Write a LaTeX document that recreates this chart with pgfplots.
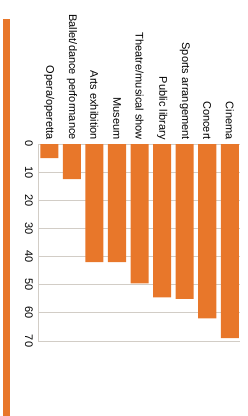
\documentclass[border=0pt]{standalone}
\usepackage{fontspec}
\setmainfont{Liberation Sans}
\usepackage{pgfplots}
\pgfplotsset{compat=1.18}
\definecolor{barorange}{HTML}{E8772A}
\definecolor{gridc}{HTML}{D2CDC6}
\begin{document}
\begin{tikzpicture}
\useasboundingbox (0,0) rectangle (247pt,416pt);
\fill[barorange] (3.3pt,0pt) rectangle (10pt,397pt);
\begin{axis}[
  at={(38pt,75pt)}, anchor=south west,
  scale only axis, width=202pt, height=197pt,
  ybar, bar width=0.8, 
  y dir=reverse,
  ymin=0, ymax=70,
  xmin=-0.5, xmax=8.45,
  xtick=data,
  xticklabels={Opera/operetta,Ballet/dance performance,Arts exhibition,Museum,Theatre/musical show,Public library,Sports arrangement,Concert,Cinema},
  axis x line*=top,
  x axis line style={draw=none},
  xticklabel pos=upper,
  x tick label style={font=\fontsize{11}{12}\selectfont, rotate=-90, anchor=east, inner sep=0pt},
  xticklabel shift=4pt,
  ytick={0,10,...,70},
  y tick label style={font=\fontsize{11}{12}\selectfont, rotate=-90, anchor=north, inner sep=0pt},
  yticklabel shift=5pt,
  /pgf/number format/assume math mode=true,
  major tick length=0pt,
  ymajorgrids, grid style={gridc, line width=1pt},
  axis y line*=left,
  y axis line style={gridc, line width=1pt, -},
  clip=false,
]
\addplot[fill=barorange, draw=none] coordinates {
(0,5) (1,12.5) (2,42) (3,42) (4,49.5) (5,54.5) (6,55) (7,62) (8,69)};
\end{axis}
\end{tikzpicture}
\end{document}
